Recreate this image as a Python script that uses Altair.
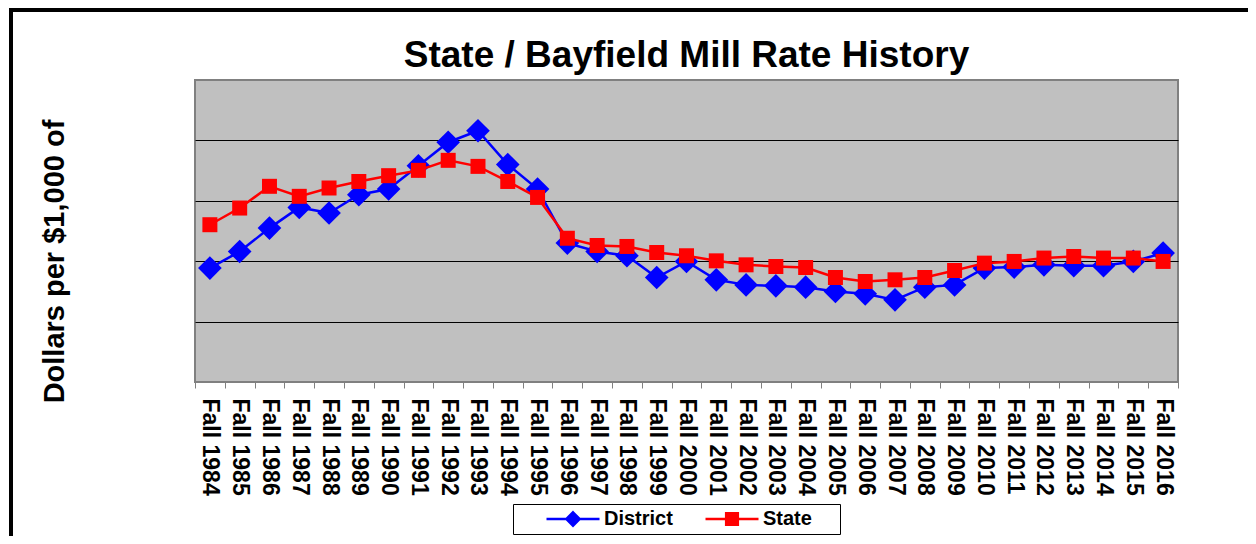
import altair as alt
import pandas as pd

years = ["Fall 1984", "Fall 1985", "Fall 1986", "Fall 1987", "Fall 1988", "Fall 1989",
         "Fall 1990", "Fall 1991", "Fall 1992", "Fall 1993", "Fall 1994", "Fall 1995",
         "Fall 1996", "Fall 1997", "Fall 1998", "Fall 1999", "Fall 2000", "Fall 2001",
         "Fall 2002", "Fall 2003", "Fall 2004", "Fall 2005", "Fall 2006", "Fall 2007",
         "Fall 2008", "Fall 2009", "Fall 2010", "Fall 2011", "Fall 2012", "Fall 2013",
         "Fall 2014", "Fall 2015", "Fall 2016"]

district = [9.43, 10.80, 12.74, 14.45, 13.99, 15.50, 15.98, 17.90, 19.85, 20.80, 18.00,
            15.98, 11.50, 10.80, 10.45, 8.65, 9.98, 8.46, 8.04, 7.96, 7.85, 7.49, 7.30,
            6.80, 7.85, 8.04, 9.43, 9.51, 9.70, 9.62, 9.62, 9.98, 10.67]

state = [13.02, 14.40, 16.20, 15.37, 16.06, 16.60, 17.08, 17.52, 18.35, 17.85, 16.60,
         15.28, 11.90, 11.30, 11.22, 10.72, 10.45, 10.03, 9.70, 9.56, 9.48, 8.65, 8.32,
         8.46, 8.65, 9.23, 9.84, 9.98, 10.26, 10.39, 10.26, 10.26, 9.98]

series_names = ["District", "State"]
series_colors = ["#0000FF", "#FF0000"]
# legend glyphs: a line with the series marker on it
legend_glyphs = ["M-1,0L1,0M0,-0.25L0.25,0L0,0.25L-0.25,0Z",
                 "M-1,0L1,0M-0.22,-0.22L0.22,-0.22L0.22,0.22L-0.22,0.22Z"]
grid_values = [5, 10, 15, 20]

df = pd.concat([
    pd.DataFrame({"year": years, "series": series_names[0], "value": district}),
    pd.DataFrame({"year": years, "series": series_names[1], "value": state}),
], ignore_index=True)

FONT = "Liberation Sans"
PAD = "\u00a0" * 4 + "\u200b"   # right-hand breathing room inside the legend box

legend = alt.Legend(
    title=None, orient="none", legendX=318, legendY=424, direction="horizontal",
    symbolSize=2809, clipHeight=20, symbolOffset=27, labelOffset=3, columnPadding=4,
    padding=5, strokeColor="#000000", fillColor="#FFFFFF",
    symbolOpacity=1, symbolStrokeWidth=2.5,
    labelFont=FONT, labelFontSize=20, labelFontWeight="bold", labelColor="#000000",
    labelExpr="datum.label == 'State' ? 'State" + PAD + "' : datum.label",
)

x_enc = alt.X(
    "year:N", sort=years, bandPosition=0.5,
    scale=alt.Scale(type="band", paddingInner=0, paddingOuter=0),
    axis=alt.Axis(title=None, labelAngle=90, labelAlign="left", labelBaseline="middle",
                  labelFont=FONT, labelFontSize=23, labelFontWeight="bold", labelColor="#000000",
                  labelPadding=10, labelOverlap=False, labelLimit=0,
                  tickBand="extent", tickSize=6, tickColor="#808080", tickWidth=1,
                  domain=False, grid=False),
)
y_enc = alt.Y(
    "value:Q", scale=alt.Scale(domain=[0, 25], nice=False, zero=True),
    axis=alt.Axis(values=grid_values, labels=False, ticks=False, domain=False,
                  grid=True, gridColor="#000000", gridWidth=1,
                  title="Dollars per $1,000 of", titleFont=FONT, titleFontSize=29,
                  titleFontWeight="bold", titleColor="#000000", titleAngle=-90,
                  titleX=-132, titleY=181, titleAlign="center", titleBaseline="alphabetic"),
)
color_enc = alt.Color("series:N", scale=alt.Scale(domain=series_names, range=series_colors),
                      legend=None)

base = alt.Chart(df).encode(x=x_enc, y=y_enc)

def one(name, shape, size):
    sub = base.transform_filter(alt.datum.series == name).encode(color=color_enc)
    ln = sub.mark_line(strokeWidth=2.5)
    pt = sub.mark_point(shape=shape, filled=True, size=size, opacity=1, strokeWidth=0)
    return [ln, pt]

legend_layer = base.mark_point(filled=True, opacity=0, size=10).encode(
    fill=alt.Fill("series:N", scale=alt.Scale(domain=series_names, range=series_colors), legend=legend),
    stroke=alt.Stroke("series:N", scale=alt.Scale(domain=series_names, range=series_colors), legend=legend),
    shape=alt.Shape("series:N", scale=alt.Scale(domain=series_names, range=legend_glyphs), legend=legend),
)

frame_data = alt.Data(values=[{"k": 1}])
frame_left = alt.Chart(frame_data).mark_rule(color="#000000", strokeWidth=4).encode(
    x=alt.value(-184), y=alt.value(-70), y2=alt.value(470))
frame_top = alt.Chart(frame_data).mark_rule(color="#000000", strokeWidth=4).encode(
    x=alt.value(-186), x2=alt.value(1053), y=alt.value(-70))

layers = [legend_layer] + one("District", "diamond", 560) + one("State", "square", 225) + [frame_left, frame_top]

chart = alt.layer(*layers).properties(
    width=983, height=302,
    background="#FFFFFF",
    autosize=alt.AutoSizeParams(type="none"),
    padding={"left": 187, "top": 72, "right": 70, "bottom": 154},
    title=alt.Title("State / Bayfield Mill Rate History", font=FONT, fontSize=37,
                    fontWeight="bold", color="#000000", anchor="middle", frame="group",
                    baseline="alphabetic", offset=-96),
).configure_view(
    stroke="#808080", strokeWidth=2, fill="#C0C0C0"
)

chart.save("out.html", embed_options={"renderer": "svg", "actions": False})
